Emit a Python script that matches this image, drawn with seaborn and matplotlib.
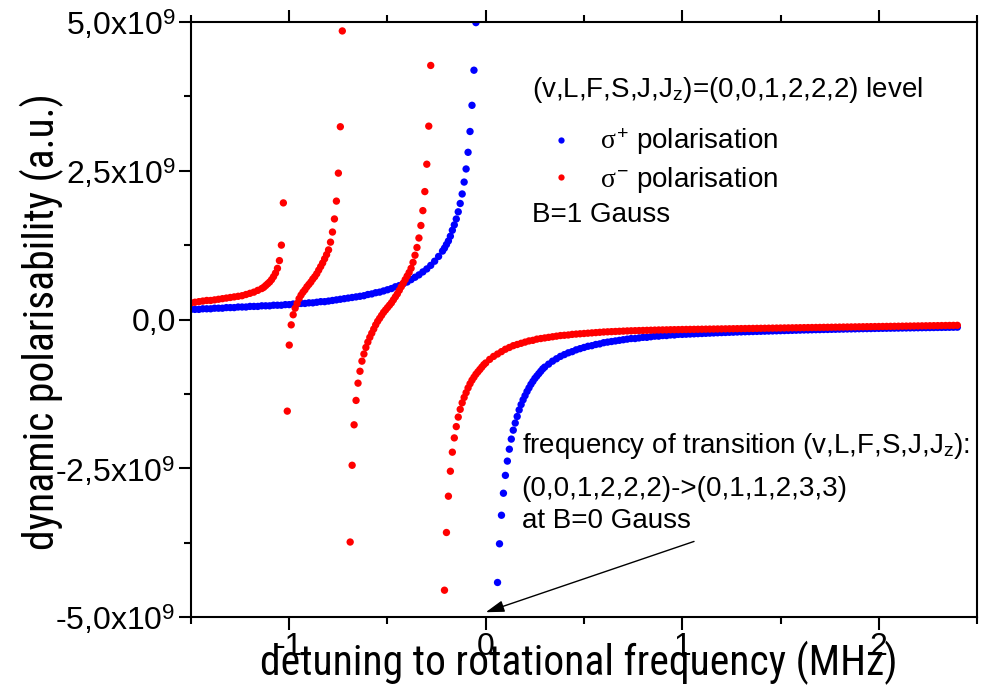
import matplotlib
matplotlib.use("Agg")
import matplotlib.pyplot as plt
import seaborn as sns
import pandas as pd
from matplotlib.lines import Line2D
from matplotlib.ticker import MultipleLocator, FixedLocator
from matplotlib import font_manager

# ---------------- data (detuning in MHz, polarisability in units of 1e9 a.u.) ----------------
blue_x = [
    -1.50, -1.48, -1.46, -1.44, -1.42, -1.40, -1.38, -1.36, -1.34, -1.32,
    -1.30, -1.28, -1.26, -1.24, -1.22, -1.20, -1.18, -1.16, -1.14, -1.12,
    -1.10, -1.08, -1.06, -1.04, -1.02, -1.00, -0.98, -0.96, -0.94, -0.92,
    -0.90, -0.88, -0.86, -0.84, -0.82, -0.80, -0.78, -0.76, -0.74, -0.72,
    -0.70, -0.68, -0.66, -0.64, -0.62, -0.60, -0.58, -0.56, -0.54, -0.52,
    -0.50, -0.48, -0.46, -0.44, -0.42, -0.40, -0.38, -0.36, -0.34, -0.32,
    -0.30, -0.28, -0.26, -0.24, -0.22,
    -0.21, -0.20, -0.19, -0.18, -0.17, -0.16, -0.15, -0.14, -0.13, -0.12,
    -0.11, -0.10, -0.09, -0.08, -0.07, -0.06, -0.05,
    0.06, 0.07, 0.08, 0.09, 0.10, 0.11, 0.12, 0.13, 0.14, 0.15,
    0.16, 0.17, 0.18, 0.19, 0.20, 0.21, 0.22, 0.23, 0.24, 0.25,
    0.26, 0.27, 0.28, 0.29, 0.30,
    0.32, 0.34, 0.36, 0.38, 0.40, 0.42, 0.44, 0.46, 0.48, 0.50,
    0.52, 0.54, 0.56, 0.58, 0.60, 0.62, 0.64, 0.66, 0.68, 0.70,
    0.72, 0.74, 0.76, 0.78, 0.80, 0.82, 0.84, 0.86, 0.88, 0.90,
    0.92, 0.94, 0.96, 0.98, 1.00,
    1.02, 1.04, 1.06, 1.08, 1.10, 1.12, 1.14, 1.16, 1.18, 1.20,
    1.22, 1.24, 1.26, 1.28, 1.30, 1.32, 1.34, 1.36, 1.38, 1.40,
    1.42, 1.44, 1.46, 1.48, 1.50, 1.52, 1.54, 1.56, 1.58, 1.60,
    1.62, 1.64, 1.66, 1.68, 1.70, 1.72, 1.74, 1.76, 1.78, 1.80,
    1.82, 1.84, 1.86, 1.88, 1.90, 1.92, 1.94, 1.96, 1.98, 2.00,
    2.02, 2.04, 2.06, 2.08, 2.10, 2.12, 2.14, 2.16, 2.18, 2.20,
    2.22, 2.24, 2.26, 2.28, 2.30, 2.32, 2.34, 2.36, 2.38, 2.40,
]
blue_y = [
    0.17, 0.17, 0.17, 0.18, 0.18, 0.18, 0.19, 0.19, 0.19, 0.20,
    0.20, 0.20, 0.21, 0.21, 0.21, 0.22, 0.22, 0.22, 0.23, 0.23,
    0.23, 0.24, 0.24, 0.24, 0.25, 0.25, 0.26, 0.26, 0.27, 0.27,
    0.28, 0.28, 0.29, 0.30, 0.30, 0.31, 0.32, 0.33, 0.34, 0.35,
    0.36, 0.37, 0.38, 0.39, 0.40, 0.42, 0.43, 0.45, 0.46, 0.48,
    0.50, 0.52, 0.55, 0.57, 0.60, 0.63, 0.67, 0.71, 0.75, 0.80,
    0.85, 0.91, 0.98, 1.06, 1.15,
    1.20, 1.26, 1.32, 1.40, 1.50, 1.59, 1.69, 1.81, 1.95, 2.11,
    2.31, 2.53, 2.81, 3.16, 3.60, 4.19, 4.99,
    -4.42, -3.77, -3.29, -2.92, -2.62, -2.38, -2.18, -2.01, -1.86, -1.74,
    -1.63, -1.52, -1.43, -1.35, -1.28, -1.21, -1.15, -1.09, -1.04, -0.99,
    -0.95, -0.91, -0.87, -0.83, -0.80,
    -0.75, -0.70, -0.66, -0.62, -0.59, -0.56, -0.54, -0.51, -0.49, -0.47,
    -0.45, -0.44, -0.42, -0.41, -0.39, -0.38, -0.37, -0.36, -0.35, -0.34,
    -0.33, -0.32, -0.32, -0.31, -0.30, -0.30, -0.29, -0.28, -0.28, -0.27,
    -0.27, -0.26, -0.26, -0.25, -0.25,
    -0.247, -0.244, -0.241, -0.238, -0.235, -0.232, -0.229, -0.226, -0.223, -0.220,
    -0.218, -0.215, -0.213, -0.210, -0.208, -0.206, -0.204, -0.202, -0.200, -0.198,
    -0.196, -0.194, -0.192, -0.190, -0.188, -0.186, -0.184, -0.182, -0.180, -0.178,
    -0.176, -0.175, -0.173, -0.171, -0.170, -0.168, -0.167, -0.165, -0.164, -0.162,
    -0.161, -0.159, -0.158, -0.157, -0.155, -0.154, -0.153, -0.152, -0.150, -0.149,
    -0.148, -0.147, -0.146, -0.145, -0.144, -0.143, -0.142, -0.141, -0.140, -0.139,
    -0.138, -0.137, -0.136, -0.135, -0.134, -0.133, -0.132, -0.131, -0.130, -0.129,
]

red_x = [
    -1.50, -1.48, -1.46, -1.44, -1.42, -1.40, -1.38, -1.36, -1.34, -1.32,
    -1.30, -1.28, -1.26, -1.24, -1.22, -1.20, -1.18, -1.16, -1.14,
    -1.13, -1.12, -1.11, -1.10, -1.09, -1.08, -1.07, -1.06, -1.05, -1.04, -1.03,
    -1.01, -1.00, -0.99, -0.98, -0.97, -0.96, -0.95, -0.94, -0.93, -0.92,
    -0.91, -0.90, -0.89, -0.88, -0.87, -0.86, -0.85, -0.84, -0.83, -0.82,
    -0.81, -0.80, -0.79, -0.78, -0.77, -0.76, -0.75, -0.74, -0.73,
    -0.69, -0.68, -0.67, -0.66, -0.65, -0.64, -0.63, -0.62, -0.61, -0.60,
    -0.59, -0.58, -0.57, -0.56, -0.55, -0.54, -0.53, -0.52, -0.51, -0.50,
    -0.49, -0.48, -0.47, -0.46, -0.45, -0.44, -0.43, -0.42, -0.41, -0.40,
    -0.39, -0.38, -0.37, -0.36, -0.35, -0.34, -0.33, -0.32, -0.31, -0.30,
    -0.29, -0.28,
    -0.21, -0.20, -0.19, -0.18, -0.17, -0.16, -0.15, -0.14, -0.13, -0.12,
    -0.11, -0.10, -0.09, -0.08, -0.07, -0.06, -0.05, -0.04, -0.03, -0.02,
    -0.01, 0.00,
    0.02, 0.04, 0.06, 0.08, 0.10, 0.12, 0.14, 0.16, 0.18, 0.20,
    0.22, 0.24, 0.26, 0.28, 0.30, 0.32, 0.34, 0.36, 0.38, 0.40,
    0.42, 0.44, 0.46, 0.48, 0.50, 0.52, 0.54, 0.56, 0.58, 0.60,
    0.62, 0.64, 0.66, 0.68, 0.70, 0.72, 0.74, 0.76, 0.78, 0.80,
    0.82, 0.84, 0.86, 0.88, 0.90, 0.92, 0.94, 0.96, 0.98, 1.00,
    1.02, 1.04, 1.06, 1.08, 1.10, 1.12, 1.14, 1.16, 1.18, 1.20,
    1.22, 1.24, 1.26, 1.28, 1.30, 1.32, 1.34, 1.36, 1.38, 1.40,
    1.42, 1.44, 1.46, 1.48, 1.50, 1.52, 1.54, 1.56, 1.58, 1.60,
    1.62, 1.64, 1.66, 1.68, 1.70, 1.72, 1.74, 1.76, 1.78, 1.80,
    1.82, 1.84, 1.86, 1.88, 1.90, 1.92, 1.94, 1.96, 1.98, 2.00,
    2.02, 2.04, 2.06, 2.08, 2.10, 2.12, 2.14, 2.16, 2.18, 2.20,
    2.22, 2.24, 2.26, 2.28, 2.30, 2.32, 2.34, 2.36, 2.38, 2.40,
]
red_y = [
    0.28, 0.29, 0.30, 0.31, 0.32, 0.32, 0.33, 0.34, 0.35, 0.36,
    0.37, 0.38, 0.39, 0.40, 0.42, 0.44, 0.46, 0.49, 0.52,
    0.54, 0.57, 0.60, 0.63, 0.67, 0.72, 0.78, 0.86, 0.99, 1.25, 1.96,
    -1.54, -0.43, -0.09, 0.08, 0.19, 0.27, 0.35, 0.41, 0.46, 0.50,
    0.55, 0.59, 0.63, 0.68, 0.72, 0.77, 0.83, 0.89, 0.95, 1.02,
    1.09, 1.17, 1.30, 1.47, 1.69, 1.99, 2.46, 3.24, 4.85,
    -3.74, -2.45, -1.77, -1.36, -1.07, -0.87, -0.70, -0.58, -0.47, -0.38,
    -0.30, -0.23, -0.16, -0.09, -0.03, 0.02, 0.07, 0.12, 0.16, 0.20,
    0.24, 0.28, 0.33, 0.38, 0.43, 0.49, 0.55, 0.61, 0.67, 0.73,
    0.79, 0.86, 0.96, 1.08, 1.21, 1.37, 1.58, 1.83, 2.15, 2.61,
    3.25, 4.27,
    -4.55, -3.58, -2.97, -2.55, -2.23, -1.99, -1.80, -1.64, -1.51, -1.40,
    -1.31, -1.23, -1.15, -1.08, -1.02, -0.97, -0.92, -0.88, -0.84, -0.80,
    -0.76, -0.73,
    -0.67, -0.62, -0.58, -0.54, -0.50, -0.47, -0.44, -0.42, -0.40, -0.38,
    -0.36, -0.35, -0.33, -0.32, -0.31, -0.30, -0.29, -0.28, -0.27, -0.265,
    -0.26, -0.25, -0.245, -0.24, -0.235, -0.23, -0.225, -0.22, -0.215, -0.21,
    -0.207, -0.204, -0.201, -0.198, -0.195, -0.192, -0.190, -0.188, -0.186, -0.184,
    -0.182, -0.180, -0.178, -0.176, -0.175, -0.174, -0.172, -0.171, -0.170, -0.168,
    -0.167, -0.166, -0.165, -0.164, -0.163, -0.162, -0.161, -0.160, -0.159, -0.158,
    -0.157, -0.156, -0.155, -0.154, -0.153, -0.152, -0.151, -0.150, -0.149, -0.148,
    -0.147, -0.146, -0.145, -0.144, -0.143, -0.142, -0.141, -0.140, -0.139, -0.138,
    -0.137, -0.136, -0.135, -0.134, -0.133, -0.132, -0.131, -0.130, -0.129, -0.128,
    -0.127, -0.126, -0.125, -0.124, -0.123, -0.122, -0.121, -0.120, -0.119, -0.118,
    -0.117, -0.116, -0.115, -0.114, -0.113, -0.112, -0.111, -0.110, -0.109, -0.108,
    -0.107, -0.106, -0.105, -0.104, -0.103, -0.102, -0.101, -0.100, -0.099, -0.098,
]

series_labels = [r"$\sigma^{\mathregular{+}}$ polarisation", r"$\sigma^{\mathregular{-}}$ polarisation"]
series_colors = ["#0000ff", "#ff0000"]

x_ticks = [-1, 0, 1, 2]
x_tick_labels = ["-1", "0", "1", "2"]
y_ticks = [-5.0, -2.5, 0.0, 2.5, 5.0]
y_tick_labels = [r"-5,0x10$^{\mathregular{9}}$", r"-2,5x10$^{\mathregular{9}}$", "0,0",
                 r"2,5x10$^{\mathregular{9}}$", r"5,0x10$^{\mathregular{9}}$"]

# ---------------- style ----------------
sns.set_style("ticks")
names = {f.name for f in font_manager.fontManager.ttflist}
if "Liberation Sans Narrow" in names:
    LABEL_FAMILY, XLABEL_SIZE, YLABEL_SIZE = "Liberation Sans Narrow", 31, 31
elif "Roboto Condensed" in names:
    LABEL_FAMILY, XLABEL_SIZE, YLABEL_SIZE = "Roboto Condensed", 30, 30
else:
    LABEL_FAMILY, XLABEL_SIZE, YLABEL_SIZE = "Liberation Sans", 27, 27
plt.rcParams["font.family"] = ["Liberation Sans", "DejaVu Sans"]
plt.rcParams["mathtext.fontset"] = "custom"
plt.rcParams["mathtext.rm"] = "Liberation Sans"
plt.rcParams["mathtext.it"] = "Liberation Serif"
plt.rcParams["mathtext.bf"] = "Liberation Sans:bold"
for key in ["text.color", "axes.labelcolor", "xtick.color", "ytick.color", "axes.edgecolor"]:
    plt.rcParams[key] = "black"

fig = plt.figure(figsize=(9.83, 6.86), dpi=100)
ax = fig.add_axes([0.1943, 0.1006, 0.7996, 0.8673])

df = pd.DataFrame({
    "detuning": blue_x + red_x,
    "alpha": blue_y + red_y,
    "pol": [series_labels[0]] * len(blue_x) + [series_labels[1]] * len(red_x),
})
sns.scatterplot(data=df, x="detuning", y="alpha", hue="pol", hue_order=series_labels,
                palette=series_colors, s=28, linewidth=0, edgecolor="none",
                legend=False, ax=ax)

ax.set_xlim(-1.5, 2.5)
ax.set_ylim(-5, 5)
ax.xaxis.set_major_locator(FixedLocator(x_ticks))
ax.set_xticklabels(x_tick_labels)
ax.yaxis.set_major_locator(FixedLocator(y_ticks))
ax.set_yticklabels(y_tick_labels)
ax.xaxis.set_minor_locator(MultipleLocator(0.5))
ax.yaxis.set_minor_locator(MultipleLocator(1.25))

for sp in ax.spines.values():
    sp.set_visible(True)
    sp.set_linewidth(1.5)
    sp.set_color("black")

ax.tick_params(which="major", direction="out", length=9, width=1.5, labelsize=23,
               pad=2, colors="black", right=False)
ax.tick_params(which="minor", direction="out", length=5, width=1.5, right=False)
ax.tick_params(axis="x", which="both", top=True, labeltop=False)

ax.set_xlabel("detuning to rotational frequency (MHz)", fontsize=XLABEL_SIZE,
              family=[LABEL_FAMILY, "Liberation Sans"])
ax.xaxis.set_label_coords(0.494, -0.040)
ax.set_ylabel("dynamic polarisability (a.u.)", fontsize=YLABEL_SIZE,
              family=[LABEL_FAMILY, "Liberation Sans"])
ax.yaxis.set_label_coords(-0.162, 0.497)

# header / annotation texts
TXT = 20
ax.text(0.434, 0.874, r"(v,L,F,S,J,J$_{\mathregular{z}}$)=(0,0,1,2,2,2) level",
        transform=ax.transAxes, fontsize=TXT, va="baseline")
ax.text(0.434, 0.664, "B=1 Gauss", transform=ax.transAxes, fontsize=TXT, va="baseline")
ax.text(0.4207, 0.2756, r"frequency of transition (v,L,F,S,J,J$_{\mathregular{z}}$):",
        transform=ax.transAxes, fontsize=TXT, va="baseline")
ax.text(0.4207, 0.2034, "(0,0,1,2,2,2)->(0,1,1,2,3,3)",
        transform=ax.transAxes, fontsize=TXT, va="baseline")
ax.text(0.4207, 0.1496, "at B=0 Gauss", transform=ax.transAxes, fontsize=TXT, va="baseline")

ax.annotate("", xy=(0.0, -4.92), xytext=(1.06, -3.73),
            arrowprops=dict(arrowstyle="-|>,head_length=0.7,head_width=0.22",
                            color="black", lw=1.0, mutation_scale=16,
                            shrinkA=0, shrinkB=0))

handles = [Line2D([], [], ls="none", marker="o", markersize=4.5,
                  markerfacecolor=c, markeredgewidth=0) for c in series_colors]
ax.legend(handles, series_labels, loc="upper left",
          bbox_to_anchor=((547 - 191) / 786, (617 - 127) / 595),
          frameon=False, fontsize=TXT, handlelength=1.0, handletextpad=0.9,
          labelspacing=0.26, borderpad=0, borderaxespad=0)

fig.savefig("out.png", dpi=100)
